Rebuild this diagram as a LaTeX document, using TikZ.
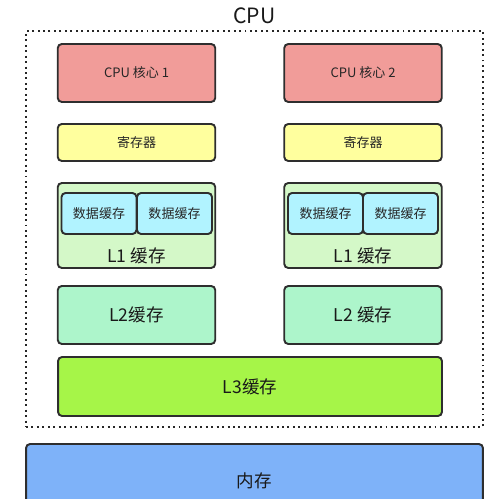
\documentclass[tikz,border=0pt]{standalone}
\usepackage{fontspec}
\setmainfont{Noto Sans CJK SC}
\usetikzlibrary{positioning}
\definecolor{coreRed}{HTML}{F19C99}
\definecolor{regYellow}{HTML}{FFFF9E}
\definecolor{lOneGreen}{HTML}{D4F8C8}
\definecolor{dataCyan}{HTML}{B1F3FF}
\definecolor{lTwoGreen}{HTML}{ADF5CB}
\definecolor{lThreeGreen}{HTML}{A6F548}
\definecolor{memBlue}{HTML}{7EB2F9}
\definecolor{edge}{HTML}{2E2E2E}

\tikzset{
  blk/.style={draw=edge, line width=1.1pt, rounded corners=2.3pt, inner sep=0pt},
  small/.style={font=\fontsize{7.4}{9}\selectfont, text=black!85},
  big/.style={font=\fontsize{10}{12}\selectfont, text=black!90},
}

\begin{document}
\begin{tikzpicture}[x=0.02cm, y=-0.02cm]
  \useasboundingbox (0,0) rectangle (500,499);

  % CPU frame
  \node[draw=black!85, dotted, line width=1.1pt, minimum width=9.14cm, minimum height=7.92cm,
        inner sep=0pt] (cpu) at (254.5,229) {};
  \node[font=\fontsize{12}{14}\selectfont, text=black!90, above=0cm of cpu.north] (cpulabel) {CPU};

  % two cores
  \foreach \n/\cx/\dl/\dr in {1/136.5/99/174.5, 2/363/325.5/400.5} {
    \node[blk, fill=coreRed, small, minimum width=3.15cm, minimum height=1.16cm] (core\n) at (\cx,73) {CPU 核心 \n};
    \node[blk, fill=regYellow, small, minimum width=3.15cm, minimum height=0.74cm] (reg\n) at (\cx,142.5) {寄存器};
    \node[blk, fill=lOneGreen, minimum width=3.15cm, minimum height=1.7cm] (lone\n) at (\cx,225.5) {};
    \node[blk, fill=dataCyan, small, minimum width=1.5cm, minimum height=0.82cm] (dataa\n) at (\dl,213.5) {数据缓存};
    \node[blk, fill=dataCyan, small, minimum width=1.5cm, minimum height=0.82cm] (datab\n) at (\dr,213.5) {数据缓存};
    \node[big] (lonelabel\n) at (\cx,255.5) {L1 缓存};
  }

  \node[blk, fill=lTwoGreen, big, minimum width=3.15cm, minimum height=1.16cm] (ltwo1) at (136.5,315) {L2缓存};
  \node[blk, fill=lTwoGreen, big, minimum width=3.15cm, minimum height=1.16cm] (ltwo2) at (363,315) {L2 缓存};

  \node[blk, fill=lThreeGreen, big, minimum width=7.68cm, minimum height=1.18cm] (lthree) at (250,386.5) {L3缓存};

  % memory, cut off at the bottom edge
  \node[blk, fill=memBlue, big, minimum width=9.14cm, minimum height=1.48cm] (mem) at (254.5,481) {内存};
\end{tikzpicture}
\end{document}
